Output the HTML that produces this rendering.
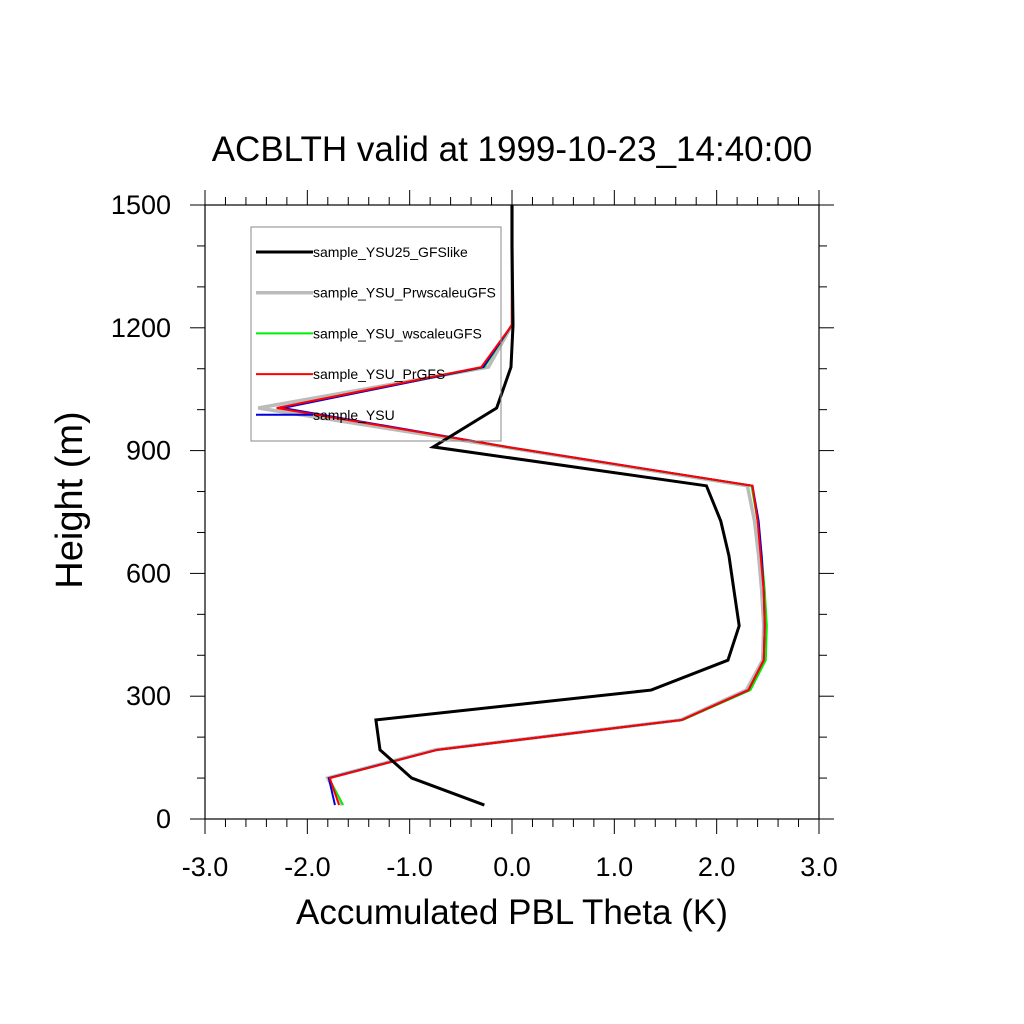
<!DOCTYPE html>
<html><head><meta charset="utf-8"><style>body{margin:0;background:#fff}svg{display:block;font-family:"Liberation Sans",sans-serif}</style></head>
<body>
<svg id="c" width="1024" height="1024"></svg>
<script>
const heights=[1500,1400,1300,1207,1104,1004,909,814,728,643,557,472,388,315,242,169,100,34];
const sBlack=[0,0,0.005,0.01,-0.01,-0.15,-0.77,1.90,2.04,2.12,2.17,2.22,2.11,1.36,-1.33,-1.29,-0.98,-0.27];
const sGray=[0,0,0,0,-0.23,-2.48,-0.08,2.30,2.37,2.41,2.44,2.46,2.45,2.29,1.65,-0.75,-1.80,-1.66];
const sGreen=[0,0,0,0,-0.27,-2.26,-0.06,2.34,2.40,2.44,2.47,2.49,2.48,2.33,1.67,-0.73,-1.79,-1.65];
const sRed=[0,0,0,0,-0.30,-2.30,-0.05,2.35,2.40,2.43,2.46,2.47,2.46,2.31,1.66,-0.73,-1.78,-1.69];
const sBlue=[0,0,0,0,-0.28,-2.24,-0.05,2.35,2.41,2.44,2.46,2.47,2.46,2.31,1.66,-0.73,-1.79,-1.73];
const xTicks=["-3.0","-2.0","-1.0","0.0","1.0","2.0","3.0"];
const yTicks=["0","300","600","900","1200","1500"];
const series=[
 {name:"sample_YSU25_GFSlike",vals:sBlack,color:"#000",w:3,z:5},
 {name:"sample_YSU_PrwscaleuGFS",vals:sGray,color:"#bbb",w:3.5,z:1},
 {name:"sample_YSU_wscaleuGFS",vals:sGreen,color:"#0e0",w:2,z:2},
 {name:"sample_YSU_PrGFS",vals:sRed,color:"#f00",w:2,z:4},
 {name:"sample_YSU",vals:sBlue,color:"#00d",w:2,z:3}];
const L=205,R=819,T=205,B=819;
const X=v=>L+(v+3)/6*(R-L), Y=v=>B-v/1500*(B-T);
const svg=document.getElementById('c');const NS="http://www.w3.org/2000/svg";
function mk(tag,at,txt){const e=document.createElementNS(NS,tag);for(const k in at)e.setAttribute(k,at[k]);if(txt!==undefined)e.textContent=txt;svg.appendChild(e);return e;}
for(let i=0;i<=30;i++){const v=-3+i*0.2,x=X(v),maj=i%5==0,len=maj?15:8;
 let t=mk('line',{x1:x,x2:x,y1:B,y2:B+len,stroke:'#000','stroke-width':1});
 t=mk('line',{x1:x,x2:x,y1:T,y2:T-len,stroke:'#000','stroke-width':1});}
for(let i=0;i<=15;i++){const v=i*100,y=Y(v),maj=i%3==0,len=maj?15:8;
 let t=mk('line',{x1:L,x2:L-len,y1:y,y2:y,stroke:'#000','stroke-width':1});
 t=mk('line',{x1:R,x2:R+len,y1:y,y2:y,stroke:'#000','stroke-width':1});}
xTicks.forEach((s,i)=>{const t=mk('text',{x:X(-3+i),y:876,'font-size':27,'text-anchor':'middle'},s);});
yTicks.forEach((s,i)=>{const t=mk('text',{x:171,y:Y(i*300)+9,'font-size':27,'text-anchor':'end'},s);});
[...series].sort((a,b)=>a.z-b.z).forEach(s=>{const p=mk('polyline',{points:s.vals.map((v,i)=>X(v)+','+Y(heights[i])).join(' '),fill:'none',stroke:s.color,'stroke-width':s.w});
 });
const lb=mk('rect',{x:251,y:227,width:250,height:214,fill:'none',stroke:'#888','stroke-width':1});
series.forEach((s,i)=>{const y=252+i*40.7;
 const l=mk('line',{x1:256,x2:313,y1:y,y2:y,stroke:s.color,'stroke-width':s.w});
 const t=mk('text',{x:313,y:y+5,'font-size':14},s.name);});
const fr=mk('rect',{x:L,y:T,width:R-L,height:B-T,fill:'none',stroke:'#000','stroke-width':1.2});
let t=mk('text',{x:512,y:161,'font-size':35,'text-anchor':'middle'},'ACBLTH valid at 1999-10-23_14:40:00');
t=mk('text',{x:512,y:924,'font-size':35,'text-anchor':'middle'},'Accumulated PBL Theta (K)');
t=mk('text',{x:0,y:0,'font-size':38,'text-anchor':'middle',transform:'translate(82,500) rotate(-90)'},'Height (m)');
</script>
</body></html>
